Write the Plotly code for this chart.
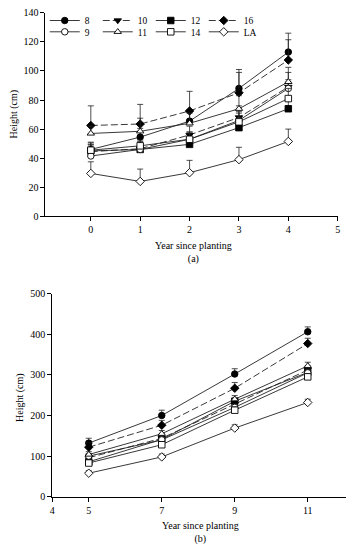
import plotly.graph_objects as go

# ---------------- data ----------------
years_a = [0, 1, 2, 3, 4]
years_b = [5, 7, 9, 11]
series = ["8", "10", "12", "16", "9", "11", "14", "LA"]

height_a = {
    "8":  [46, 54.5, 65.5, 88, 113],
    "9":  [41.5, 46, 53, 66, 88],
    "10": [44.5, 46.5, 56, 68, 89],
    "11": [57, 58.5, 64, 74, 92.5],
    "12": [45, 46, 49.5, 61, 74],
    "14": [45.5, 48.5, 53, 65, 81],
    "16": [62.5, 63.5, 72.5, 85, 107.5],
    "LA": [29.5, 24, 30, 39, 51.5],
}
err_a = {
    "8":  [5, 6, 8, 13, 13],
    "9":  [4, 4, 5, 6, 6],
    "10": [5, 5, 6, 8, 10],
    "11": [5, 9, 7, 9, 10],
    "12": [4, 4, 4, 5, 6],
    "14": [5, 4, 5, 6, 7],
    "16": [13.5, 13.5, 13.5, 14, 14],
    "LA": [8, 8.5, 8.5, 8.5, 8.5],
}
height_b = {
    "8":  [132, 200, 302, 406],
    "9":  [100, 140, 220, 305],
    "10": [96, 144, 228, 312],
    "11": [104, 155, 240, 322],
    "12": [86, 141, 235, 306],
    "14": [83, 128, 213, 295],
    "16": [122, 176, 267, 377],
    "LA": [58, 98, 169, 232],
}
err_b = {
    "8":  [12, 13, 13, 12],
    "9":  [6, 7, 8, 8],
    "10": [6, 7, 8, 8],
    "11": [7, 8, 9, 9],
    "12": [6, 7, 8, 8],
    "14": [6, 7, 8, 8],
    "16": [10, 12, 14, 13],
    "LA": [6, 7, 8, 8],
}

# ---------------- styles ----------------
style = {
    "8":  dict(symbol="circle", fill="black", dash="solid"),
    "10": dict(symbol="triangle-down", fill="black", dash="7px,3px"),
    "12": dict(symbol="square", fill="black", dash="solid"),
    "16": dict(symbol="diamond", fill="black", dash="7px,3px"),
    "9":  dict(symbol="circle", fill="white", dash="solid"),
    "11": dict(symbol="triangle-up", fill="white", dash="solid"),
    "14": dict(symbol="square", fill="white", dash="solid"),
    "LA": dict(symbol="diamond", fill="white", dash="solid"),
}

FONT = "Liberation Serif, Times New Roman, serif"
fig = go.Figure()

for s in series:
    st = style[s]
    legend = "legend" if s in ["8", "10", "12", "16"] else "legend2"
    common = dict(
        mode="lines+markers",
        line=dict(color="#222222", width=0.9, dash=st["dash"]),
        marker=dict(symbol=st["symbol"], size=6.5, color=st["fill"],
                    line=dict(color="black", width=0.9)),
    )
    fig.add_trace(go.Scatter(
        x=years_a, y=height_a[s], name=s, legend=legend,
        error_y=dict(type="data", symmetric=False, array=err_a[s],
                     arrayminus=[0] * len(err_a[s]), color="#222222",
                     thickness=0.8, width=3),
        xaxis="x", yaxis="y", **common))
    fig.add_trace(go.Scatter(
        x=years_b, y=height_b[s], name=s, showlegend=False,
        error_y=dict(type="data", symmetric=False, array=err_b[s],
                     arrayminus=[0] * len(err_b[s]), color="#222222",
                     thickness=0.8, width=3),
        xaxis="x2", yaxis="y2", **common))

axis_common = dict(showline=True, linecolor="black", linewidth=1,
                   ticks="outside", ticklen=4, tickcolor="black",
                   showgrid=False, zeroline=False,
                   tickfont=dict(family=FONT, size=10, color="black"))

ann = dict(xref="paper", yref="paper", showarrow=False,
           xanchor="center", yanchor="middle", font=dict(size=10))

leg = dict(orientation="h", x=0.12, xanchor="left", yanchor="top",
           bgcolor="rgba(0,0,0,0)", font=dict(family=FONT, size=9.5),
           entrywidth=8, itemwidth=30, tracegroupgap=0)

fig.update_layout(
    width=353, height=550,
    margin=dict(l=0, r=0, t=0, b=0),
    paper_bgcolor="white", plot_bgcolor="white",
    font=dict(family=FONT, size=10, color="black"),
    xaxis=dict(domain=[0.1218, 0.9632], range=[-0.92, 5.01],
               tickvals=[0, 1, 2, 3, 4, 5], anchor="y", **axis_common),
    yaxis=dict(domain=[0.6091, 0.9873], range=[0, 140],
               tickvals=list(range(0, 141, 20)), anchor="x", **axis_common),
    xaxis2=dict(domain=[0.1416, 0.9858], range=[4, 12.05],
                tickvals=[4, 5, 7, 9, 11], anchor="y2", **axis_common),
    yaxis2=dict(domain=[0.0878, 0.4655], range=[0, 500],
                tickvals=list(range(0, 501, 100)), anchor="x2", **axis_common),
    legend=dict(y=1.0, **leg),
    legend2=dict(y=0.979, **leg),
    annotations=[
        dict(text="Height (cm)", x=11 / 353, y=1 - 110 / 550, textangle=-90, **ann),
        dict(text="Year since planting<br>(a)", x=0.547, y=1 - 252.5 / 550, **ann),
        dict(text="Height (cm)", x=18 / 353, y=1 - 400 / 550, textangle=-90, **ann),
        dict(text="Year since planting<br>(b)", x=0.567, y=1 - 538.5 / 550, **ann),
    ],
)

fig.write_html("out.html", config={"displayModeBar": False},
               post_script="document.body.style.margin='0';document.body.style.overflow='hidden';")
